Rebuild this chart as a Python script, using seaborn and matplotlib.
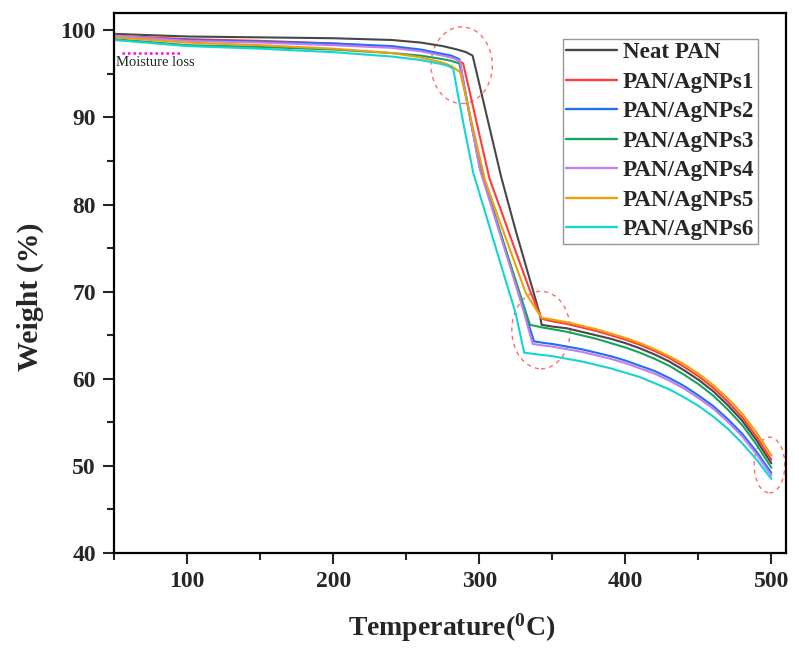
import matplotlib
matplotlib.use("Agg")
import matplotlib.pyplot as plt
from matplotlib.lines import Line2D
from matplotlib.patches import Ellipse
from matplotlib.ticker import MultipleLocator
import pandas as pd
import seaborn as sns

OUT_PATH = "out.png"

# TGA curves (temperature in degC, weight in %)
labels = ["Neat PAN", "PAN/AgNPs1", "PAN/AgNPs2", "PAN/AgNPs3",
          "PAN/AgNPs4", "PAN/AgNPs5", "PAN/AgNPs6"]
colors = ["#474747", "#ff3c3c", "#1f6ff0", "#14a45c",
          "#c47cf2", "#eea00c", "#14d4d4"]

neat_t = [50, 100, 150, 200, 240, 260, 275, 285, 291, 295.5, 300, 305, 315, 325, 335,
          341.5, 342.7, 350, 360, 370, 380, 390, 400, 410, 420, 430, 440, 450, 460,
          470, 480, 490, 500]
neat_w = [99.6, 99.3, 99.2, 99.1, 98.9, 98.6, 98.2, 97.8, 97.5, 97.1, 93.9, 90.3, 83.2,
          77.0, 71.2, 67.4, 66.2, 66.0, 65.8, 65.4, 65.0, 64.6, 64.1, 63.5, 62.8, 62.0,
          61.0, 59.9, 58.6, 57.0, 55.2, 52.9, 50.3]

ag1_t = [50, 100, 150, 200, 240, 260, 275, 283, 289, 293, 298, 307, 315, 325, 335,
         342.7, 350, 360, 370, 380, 390, 400, 410, 420, 430, 440, 450, 460, 470, 480,
         490, 500]
ag1_w = [99.4, 99.0, 98.8, 98.5, 98.1, 97.7, 97.2, 96.8, 96.2, 93.3, 89.6, 83.0, 79.3,
         74.6, 70.0, 66.9, 66.6, 66.3, 65.9, 65.5, 65.0, 64.5, 63.9, 63.2, 62.4, 61.4,
         60.3, 59.0, 57.4, 55.6, 53.3, 50.7]

ag2_t = [50, 100, 150, 200, 240, 260, 275, 281, 286.4, 290, 295, 301, 310, 320, 330,
         337.5, 345, 350, 360, 370, 380, 390, 400, 410, 420, 430, 440, 450, 460, 470,
         480, 490, 500]
ag2_w = [99.3, 98.9, 98.7, 98.5, 98.2, 97.8, 97.3, 97.1, 96.7, 93.4, 89.0, 84.0, 79.1,
         73.7, 68.3, 64.3, 64.1, 64.0, 63.7, 63.4, 63.0, 62.6, 62.1, 61.5, 60.9, 60.1,
         59.2, 58.1, 56.9, 55.4, 53.7, 51.6, 49.2]

ag3_t = [50, 100, 150, 200, 240, 260, 275, 281, 286.4, 290, 295, 300.5, 310, 320,
         334.7, 343, 350, 360, 370, 380, 390, 400, 410, 420, 430, 440, 450, 460, 470,
         480, 490, 500]
ag3_w = [99.0, 98.3, 98.1, 97.8, 97.4, 97.1, 96.7, 96.5, 96.2, 93.2, 88.9, 84.2, 79.2,
         73.9, 66.2, 65.9, 65.7, 65.4, 65.0, 64.6, 64.1, 63.6, 63.0, 62.3, 61.5, 60.5,
         59.4, 58.1, 56.5, 54.7, 52.4, 49.8]

ag4_t = [50, 100, 150, 200, 240, 260, 275, 281, 286.8, 290, 295, 300.5, 310, 320, 330,
         336.6, 345, 350, 360, 370, 380, 390, 400, 410, 420, 430, 440, 450, 460, 470,
         480, 490, 500]
ag4_w = [99.4, 98.8, 98.6, 98.3, 98.0, 97.6, 97.1, 96.9, 96.5, 93.3, 88.9, 84.0, 78.9,
         73.5, 68.0, 64.0, 63.8, 63.7, 63.4, 63.1, 62.7, 62.3, 61.8, 61.2, 60.6, 59.8,
         58.9, 57.8, 56.6, 55.1, 53.4, 51.3, 48.9]

ag5_t = [50, 100, 150, 200, 240, 260, 275, 281, 287, 291, 296, 304, 312, 322, 332,
         342.7, 350, 360, 370, 380, 390, 400, 410, 420, 430, 440, 450, 460, 470, 480,
         490, 500]
ag5_w = [99.2, 98.6, 98.3, 97.9, 97.4, 96.9, 96.3, 95.9, 95.2, 92.3, 88.6, 82.8, 79.0,
         74.4, 69.8, 67.0, 66.8, 66.5, 66.1, 65.7, 65.2, 64.7, 64.1, 63.4, 62.6, 61.7,
         60.6, 59.3, 57.8, 56.0, 53.8, 51.2]

ag6_t = [50, 100, 150, 200, 240, 260, 275, 279, 282.2, 285, 290, 296, 305, 315, 325,
         330.8, 340, 350, 360, 370, 380, 390, 400, 410, 420, 430, 440, 450, 460, 470,
         480, 490, 500]
ag6_w = [98.9, 98.2, 97.9, 97.5, 97.0, 96.6, 96.1, 95.9, 95.6, 93.0, 88.6, 83.6, 78.6,
         73.0, 67.5, 63.0, 62.8, 62.6, 62.3, 62.0, 61.6, 61.2, 60.7, 60.2, 59.5, 58.8,
         57.9, 56.9, 55.7, 54.3, 52.6, 50.7, 48.5]

series_t = [neat_t, ag1_t, ag2_t, ag3_t, ag4_t, ag5_t, ag6_t]
series_w = [neat_w, ag1_w, ag2_w, ag3_w, ag4_w, ag5_w, ag6_w]

# dashed ellipses: centre (T, W), width (degC), height (%)
ellipse_xy = [(288.0, 96.0), (342.3, 65.6), (498.7, 50.1)]
ellipse_wh = [(42, 8.8), (40, 8.9), (21, 6.4)]


def main():
    frames = []
    for lab, t, w in zip(labels, series_t, series_w):
        frames.append(pd.DataFrame({"T": t, "W": w, "sample": lab}))
    df = pd.concat(frames, ignore_index=True)

    sns.set_style("white")
    plt.rcParams["font.family"] = ["Liberation Serif", "DejaVu Serif"]
    plt.rcParams["mathtext.default"] = "regular"

    fig = plt.figure(figsize=(7.99, 6.55), dpi=100)
    ax = fig.add_axes([0.1427, 0.1557, 0.841, 0.8245])

    sns.lineplot(data=df, x="T", y="W", hue="sample", units="sample", estimator=None,
                 sort=False, palette=dict(zip(labels, colors)), linewidth=1.5,
                 legend=False, ax=ax)

    for (cx, cy), (ew, eh) in zip(ellipse_xy, ellipse_wh):
        ax.add_patch(Ellipse((cx, cy), ew, eh, fill=False, edgecolor="#ff6b6b",
                             linestyle=(0, (3, 3)), linewidth=1.0))

    # moisture loss marker
    ax.plot([55.3, 96.3], [97.45, 97.45], color="#ff00ff", linestyle=(0, (1, 1.2)),
            linewidth=1.8)
    ax.text(51.5, 96.35, "Moisture loss", fontsize=10.5, va="center", ha="left")

    ax.set_xlim(50, 510)
    ax.set_ylim(40, 102)
    ax.xaxis.set_major_locator(MultipleLocator(100))
    ax.xaxis.set_minor_locator(MultipleLocator(50))
    ax.yaxis.set_major_locator(MultipleLocator(10))
    ax.yaxis.set_minor_locator(MultipleLocator(5))
    ax.tick_params(which="major", direction="out", length=8, width=1.5, pad=5,
                   labelsize=17, bottom=True, left=True)
    ax.tick_params(which="minor", direction="out", length=5, width=1.5,
                   bottom=True, left=True)
    for lab in ax.get_xticklabels() + ax.get_yticklabels():
        lab.set_fontweight("bold")
    for sp in ax.spines.values():
        sp.set_linewidth(1.6)
        sp.set_color("black")

    ax.set_xlabel("Temperature($^{0}$C)", fontsize=20, fontweight="bold")
    ax.set_ylabel("Weight (%)", fontsize=21.5, fontweight="bold")
    ax.xaxis.set_label_coords(0.503, -0.108)
    ax.yaxis.set_label_coords(-0.104, 0.474)

    handles = [Line2D([], [], color=c, linewidth=1.7) for c in colors]
    leg = ax.legend(handles, labels, loc="upper right", bbox_to_anchor=(0.958, 0.952),
                    prop={"weight": "bold", "size": 16.6}, frameon=True, fancybox=False,
                    edgecolor="#7f7f7f", handlelength=2.2, handletextpad=0.25,
                    labelspacing=0.36, borderpad=0.15, borderaxespad=0)
    leg.get_frame().set_linewidth(1.0)

    fig.savefig(OUT_PATH, dpi=100)
    plt.close(fig)


if __name__ == "__main__":
    main()
